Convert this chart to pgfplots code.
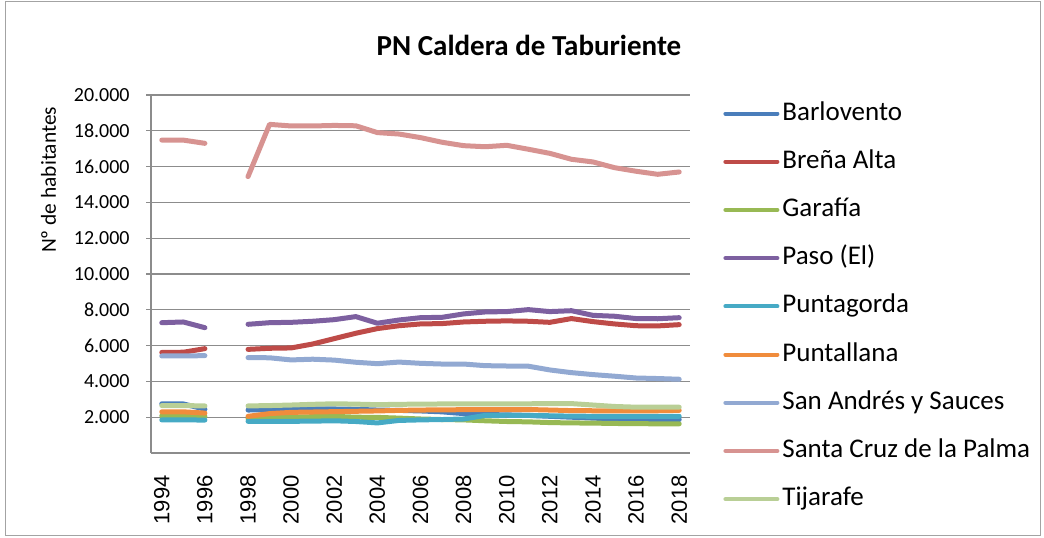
\documentclass[border=0pt]{standalone}
\usepackage{fontspec}
\setmainfont{Carlito}
\newfontfamily\arialf{Liberation Sans}
\usepackage{pgfplots}
\pgfplotsset{compat=1.18}

\definecolor{cBarl}{HTML}{4A7EBB}
\definecolor{cBrena}{HTML}{BE4B48}
\definecolor{cGara}{HTML}{98B954}
\definecolor{cPaso}{HTML}{7D60A0}
\definecolor{cPgorda}{HTML}{46AAC5}
\definecolor{cPllana}{HTML}{F08C3C}
\definecolor{cSanA}{HTML}{92A9D2}
\definecolor{cSCruz}{HTML}{D79391}
\definecolor{cTija}{HTML}{B9CF96}
\definecolor{cgrid}{HTML}{8C8C8C}

\begin{document}
\begin{tikzpicture}
\useasboundingbox (0,0) rectangle (522pt,268.5pt);
\draw[cgrid!80, line width=0.5pt] (2.5pt,1pt) rectangle (520pt,267.5pt);
\node[font=\bfseries\fontsize{14.5}{17}\selectfont] at (264.5pt,246pt) {PN Caldera de Taburiente};
\begin{axis}[
    at={(75.5pt,42pt)}, anchor=south west,
    scale only axis,
    width=269.5pt, height=179pt,
    xmin=1993.5, xmax=2018.5,
    ymin=0, ymax=20000,
    xtick={1994,1996,...,2018},
    ytick={2000,4000,...,20000},
    scaled y ticks=false,
    axis x line*=bottom, axis y line*=left,
    axis line style={cgrid, line width=0.7pt},
    ymajorgrids=true,
    grid style={cgrid, line width=0.6pt},
    tick align=outside,
    major tick length=2.5pt,
    x tick style={draw=none},
    y tick style={cgrid, line width=0.6pt},
    xticklabel={\pgfmathprintnumber[1000 sep={}]{\tick}},
    xticklabel style={font=\arialf\fontsize{11}{13}\selectfont, rotate=90, anchor=east, inner sep=0pt},
    xticklabel shift=8.5pt,
    yticklabel style={font=\fontsize{10}{12}\selectfont, inner sep=0pt, anchor=east},
    yticklabel shift=8pt,
    /pgf/number format/.cd, 1000 sep={.}, assume math mode=true, /pgfplots/.cd,
    ylabel={Nº de habitantes},
    ylabel style={font=\fontsize{10.7}{12}\selectfont, at={(axis description cs:-0.19,0.763)}, anchor=center},
    unbounded coords=jump,
    every axis plot/.append style={line width=2.5pt, line cap=round, line join=round},
    legend cell align=left,
    legend image code/.code={\draw[#1, line width=2pt, line cap=round] (1pt,0pt) -- (27pt,0pt);},
    legend style={draw=none, fill=none, inner sep=0pt,
        at={(axis description cs:1,1)}, anchor=north west,
        xshift=16.5pt, yshift=-2.3pt,
        font=\fontsize{13.5}{15}\selectfont,
        row sep=10.6pt,
        nodes={inner sep=0pt, text height=10pt, text depth=3.5pt},
        /tikz/every odd column/.append style={column sep=1.5pt}},
]
% Barlovento
\addplot[color=cBarl] coordinates {
(1994,2750) (1995,2740) (1996,2450) (1997,nan) (1998,2400) (1999,2430) (2000,2450)
(2001,2460) (2002,2460) (2003,2440) (2004,2400) (2005,2380) (2006,2350) (2007,2300)
(2008,2200) (2009,2150) (2010,2130) (2011,2100) (2012,2050) (2013,2000) (2014,1950)
(2015,1900) (2016,1880) (2017,1870) (2018,1870)};
% Brena Alta
\addplot[color=cBrena] coordinates {
(1994,5620) (1995,5630) (1996,5830) (1997,nan) (1998,5790) (1999,5850) (2000,5870)
(2001,6090) (2002,6390) (2003,6690) (2004,6950) (2005,7110) (2006,7210) (2007,7230)
(2008,7320) (2009,7360) (2010,7380) (2011,7360) (2012,7300) (2013,7510) (2014,7340)
(2015,7210) (2016,7110) (2017,7100) (2018,7170)};
% Garafia
\addplot[color=cGara] coordinates {
(1994,2080) (1995,2070) (1996,2050) (1997,nan) (1998,1920) (1999,1980) (2000,2000)
(2001,2030) (2002,2050) (2003,2000) (2004,1990) (2005,1950) (2006,1900) (2007,1870)
(2008,1850) (2009,1800) (2010,1760) (2011,1740) (2012,1700) (2013,1680) (2014,1670)
(2015,1650) (2016,1640) (2017,1630) (2018,1630)};
% Paso (El)
\addplot[color=cPaso] coordinates {
(1994,7280) (1995,7320) (1996,7000) (1997,nan) (1998,7190) (1999,7280) (2000,7300)
(2001,7360) (2002,7450) (2003,7620) (2004,7250) (2005,7430) (2006,7560) (2007,7580)
(2008,7770) (2009,7880) (2010,7900) (2011,8010) (2012,7900) (2013,7950) (2014,7690)
(2015,7640) (2016,7510) (2017,7500) (2018,7560)};
% Puntagorda
\addplot[color=cPgorda] coordinates {
(1994,1850) (1995,1850) (1996,1840) (1997,nan) (1998,1770) (1999,1770) (2000,1770)
(2001,1780) (2002,1800) (2003,1760) (2004,1680) (2005,1820) (2006,1850) (2007,1870)
(2008,1900) (2009,2100) (2010,2110) (2011,2100) (2012,2080) (2013,2060) (2014,2050)
(2015,2040) (2016,2040) (2017,2040) (2018,2050)};
% Puntallana
\addplot[color=cPllana] coordinates {
(1994,2300) (1995,2300) (1996,2230) (1997,nan) (1998,2050) (1999,2200) (2000,2270)
(2001,2290) (2002,2310) (2003,2330) (2004,2350) (2005,2380) (2006,2400) (2007,2410)
(2008,2420) (2009,2420) (2010,2430) (2011,2430) (2012,2400) (2013,2370) (2014,2360)
(2015,2350) (2016,2350) (2017,2360) (2018,2380)};
% San Andres y Sauces
\addplot[color=cSanA] coordinates {
(1994,5420) (1995,5420) (1996,5440) (1997,nan) (1998,5330) (1999,5320) (2000,5200)
(2001,5240) (2002,5190) (2003,5070) (2004,4990) (2005,5080) (2006,5010) (2007,4970)
(2008,4970) (2009,4880) (2010,4860) (2011,4850) (2012,4640) (2013,4490) (2014,4380)
(2015,4290) (2016,4190) (2017,4160) (2018,4120)};
% Santa Cruz de la Palma
\addplot[color=cSCruz] coordinates {
(1994,17480) (1995,17480) (1996,17300) (1997,nan) (1998,15440) (1999,18360) (2000,18270)
(2001,18270) (2002,18300) (2003,18280) (2004,17900) (2005,17820) (2006,17620) (2007,17360)
(2008,17170) (2009,17110) (2010,17190) (2011,16970) (2012,16740) (2013,16410) (2014,16260)
(2015,15940) (2016,15740) (2017,15570) (2018,15700)};
% Tijarafe
\addplot[color=cTija] coordinates {
(1994,2650) (1995,2650) (1996,2630) (1997,nan) (1998,2630) (1999,2650) (2000,2680)
(2001,2720) (2002,2750) (2003,2730) (2004,2700) (2005,2720) (2006,2730) (2007,2740)
(2008,2740) (2009,2750) (2010,2750) (2011,2750) (2012,2760) (2013,2760) (2014,2680)
(2015,2600) (2016,2560) (2017,2560) (2018,2560)};
\legend{Barlovento, Breña Alta, Garafía, Paso (El), Puntagorda, Puntallana, San Andrés y Sauces, Santa Cruz de la Palma, Tijarafe}
\end{axis}
\end{tikzpicture}
\end{document}
